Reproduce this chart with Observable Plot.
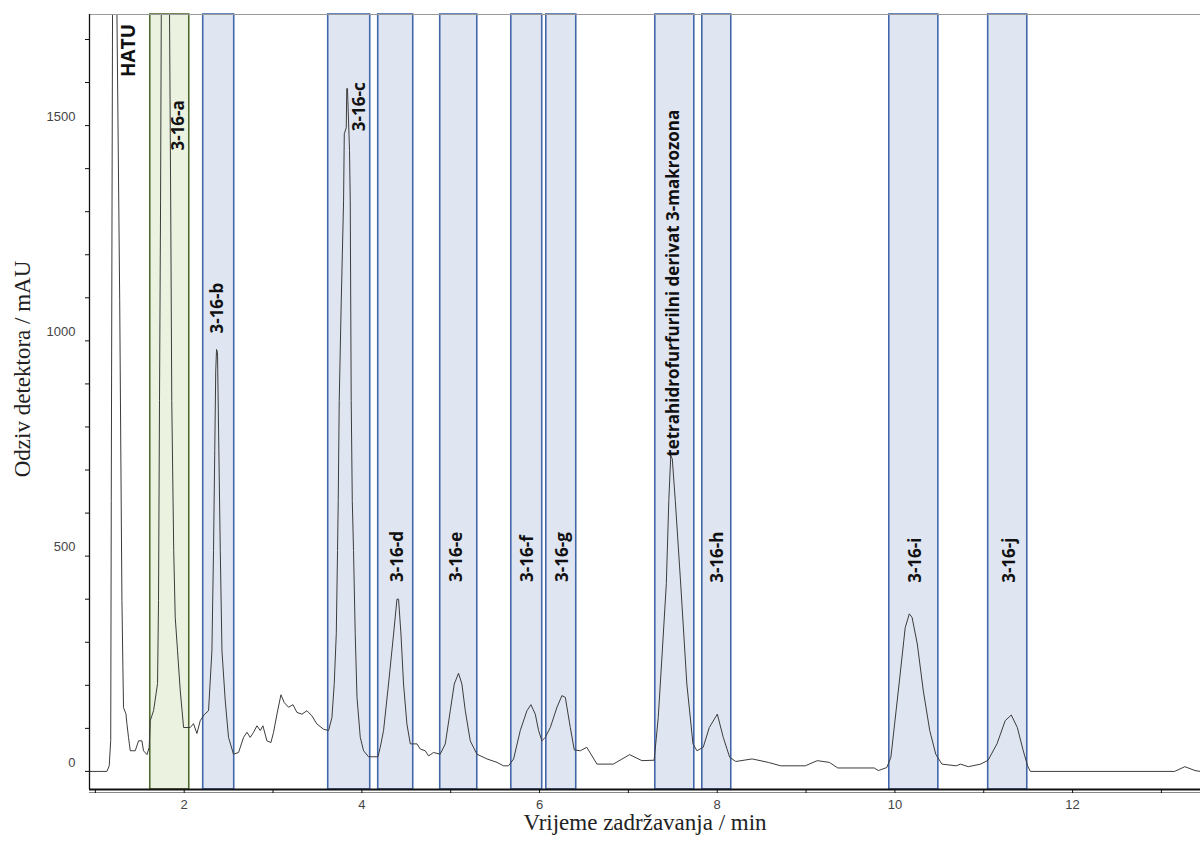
<!DOCTYPE html>
<html>
<head>
<meta charset="utf-8">
<script src="https://cdn.jsdelivr.net/npm/d3@7"></script>
<script src="https://cdn.jsdelivr.net/npm/@observablehq/plot@0.6"></script>
<style>
  html, body { margin: 0; padding: 0; background: #fff; }
  #chart svg { display: block; }
</style>
</head>
<body>
<div id="chart"></div>
<script>
// ---- Data ----
// Retention time (min)
const time = [
  0.934, 1.130, 1.156, 1.173, 1.179, 1.199, 1.216, 1.243, 1.274, 1.299, 1.310, 1.317, 1.344, 1.355, 1.373, 1.393,
  1.449, 1.486, 1.524, 1.542, 1.581, 1.606, 1.618, 1.655, 1.700, 1.711, 1.722, 1.734, 1.742, 1.747, 1.829, 1.835,
  1.848, 1.860, 1.882, 1.899, 1.925, 1.955, 1.993, 2.068, 2.105, 2.143, 2.181, 2.226, 2.274, 2.312, 2.330, 2.344,
  2.355, 2.364, 2.375, 2.387, 2.406, 2.425, 2.462, 2.499, 2.555, 2.612, 2.668, 2.706, 2.743, 2.781, 2.819, 2.856,
  2.886, 2.931, 2.976, 3.006, 3.044, 3.089, 3.126, 3.175, 3.224, 3.269, 3.325, 3.382, 3.438, 3.494, 3.569, 3.625,
  3.663, 3.689, 3.712, 3.726, 3.734, 3.745, 3.768, 3.794, 3.802, 3.824, 3.830, 3.838, 3.861, 3.869, 3.880, 3.892,
  3.906, 3.925, 3.945, 3.982, 4.019, 4.075, 4.181, 4.207, 4.244, 4.300, 4.357, 4.395, 4.413, 4.440, 4.469, 4.507,
  4.545, 4.620, 4.657, 4.713, 4.751, 4.807, 4.882, 4.939, 4.995, 5.040, 5.088, 5.126, 5.164, 5.220, 5.295, 5.408,
  5.521, 5.595, 5.651, 5.708, 5.783, 5.858, 5.903, 5.952, 5.989, 6.027, 6.064, 6.121, 6.196, 6.252, 6.290, 6.346,
  6.391, 6.459, 6.532, 6.646, 6.830, 7.014, 7.152, 7.290, 7.336, 7.382, 7.427, 7.455, 7.477, 7.494, 7.528, 7.589,
  7.658, 7.727, 7.772, 7.842, 7.911, 8.001, 8.068, 8.140, 8.209, 8.393, 8.575, 8.714, 8.991, 9.126, 9.262, 9.358,
  9.768, 9.813, 9.909, 9.955, 10.047, 10.116, 10.162, 10.193, 10.252, 10.320, 10.392, 10.460, 10.529, 10.691, 10.736, 10.827,
  10.966, 11.049, 11.149, 11.242, 11.310, 11.378, 11.445, 11.494, 11.524, 13.149, 13.264, 13.378, 13.438
];
// Detector response (mAU)
const response = [
  0, 0, 13, 72, 629, 2200, 2200, 1758, 1093, 397, 241, 148, 134, 111, 79, 48,
  48, 71, 71, 48, 39, 56, 118, 141, 204, 397, 861, 1325, 1758, 2150, 2150, 1758,
  1325, 861, 513, 358, 280, 189, 102, 102, 111, 88, 118, 132, 141, 280, 513, 745,
  931, 980, 973, 791, 513, 280, 164, 79, 40, 44, 79, 91, 79, 91, 106, 95,
  106, 71, 67, 91, 133, 178, 160, 149, 155, 137, 133, 141, 129, 110, 98, 95,
  125, 204, 320, 513, 629, 861, 1093, 1325, 1481, 1495, 1586, 1586, 1442, 1325, 861, 629,
  513, 320, 172, 79, 48, 34, 34, 56, 95, 203, 319, 400, 400, 319, 203, 110,
  64, 64, 52, 48, 36, 44, 40, 64, 141, 203, 228, 203, 141, 71, 40, 29,
  21, 13, 13, 29, 95, 141, 155, 133, 95, 71, 79, 102, 149, 176, 172, 102,
  50, 48, 56, 17, 17, 39, 25, 26, 125, 280, 436, 629, 733, 726, 629, 435,
  203, 64, 48, 56, 102, 133, 79, 33, 23, 29, 21, 13, 13, 25, 21, 8,
  8, 2, 9, 33, 203, 334, 366, 358, 296, 187, 95, 40, 17, 13, 17, 11,
  17, 26, 64, 118, 131, 102, 48, 13, 0, 0, 11, 2, 0
];

// Collection windows (fractions), min
const bandNames = ["3-16-a", "3-16-b", "3-16-c", "3-16-d", "3-16-e", "3-16-f", "3-16-g", "tetrahidrofurfurilni derivat 3-makrozona", "3-16-h", "3-16-i", "3-16-j"];
const bandStart = [1.618, 2.214, 3.621, 4.184, 4.882, 5.682, 6.076, 7.303, 7.832, 9.937, 11.050];
const bandEnd   = [2.057, 2.563, 4.094, 4.578, 5.299, 6.030, 6.413, 7.742, 8.158, 10.489, 11.490];

// Peak labels: anchor time (min) and level (mAU) where each label starts
const labelNames  = ["HATU", "3-16-a", "3-16-b", "3-16-c", "3-16-d", "3-16-e", "3-16-f", "3-16-g", "tetrahidrofurfurilni derivat 3-makrozona", "3-16-h", "3-16-i", "3-16-j"];
const labelTimes  = [1.376, 1.939, 2.372, 3.970, 4.398, 5.063, 5.870, 6.256, 7.505, 8.006, 10.230, 11.288];
const labelLevels = [1613, 1442, 1017, 1487, 440, 440, 440, 440, 731, 438, 438, 438];

// Axes
const xDomain = [0.934, 13.44];
const yDomain = [-42, 1758];
const xTicks = d3.range(1, 14, 1);
const yTicks = d3.range(0, 1800, 100);
const yLabelTicks = [0, 500, 1000, 1500];
const xTitle = "Vrijeme zadržavanja / min";
const yTitle = "Odziv detektora / mAU";

// ---- Build tables ----
const trace = time.map((t, i) => ({t, v: response[i]}));
const bands = bandNames.map((name, i) => ({name, start: bandStart[i], end: bandEnd[i]}));
const labels = labelNames.map((name, i) => ({name, t: labelTimes[i], v: labelLevels[i]}));

const greenBands = bands.slice(0, 1);
const blueBands = bands.slice(1);
const hatuLabel = labels.slice(0, 1);
const peakLabels = labels.slice(1);

const chart = Plot.plot({
  width: 1200,
  height: 841,
  marginTop: 14,
  marginLeft: 89,
  marginRight: 0,
  marginBottom: 52,
  style: {fontFamily: "'Liberation Sans', Arial, sans-serif", fontSize: "13px", color: "#333", background: "#fff", overflow: "visible"},
  x: {domain: xDomain, label: null},
  y: {domain: yDomain, label: null},
  marks: [
    Plot.rect(greenBands, {x1: "start", x2: "end", fill: "#ebf3e0", stroke: "#50692f", strokeWidth: 1.6}),
    Plot.rect(blueBands, {x1: "start", x2: "end", fill: "#dfe5f1", stroke: "#4367ab", strokeWidth: 1.6}),
    Plot.line(trace, {x: "t", y: "v", stroke: "#3c3c3c", strokeWidth: 1, clip: true}),
    Plot.ruleY([yDomain[1]], {stroke: "#9a9a9a", strokeWidth: 1.2}),
    Plot.ruleX([xDomain[0]], {stroke: "#111", strokeWidth: 1.3}),
    Plot.ruleY([yDomain[0]], {stroke: "#111", strokeWidth: 2.2}),
    Plot.ruleY([yDomain[0]], {stroke: "#888", strokeWidth: 1, dy: 3}),
    Plot.axisY({ticks: yTicks, tickSize: 4, tickFormat: () => "", stroke: "#111"}),
    Plot.axisY({ticks: yLabelTicks, tickSize: 0, tickPadding: 14, dy: -9, tickFormat: d => String(d), fill: "#444", fontSize: 13}),
    Plot.axisX({ticks: xTicks, tickSize: 4, tickPadding: 6, tickFormat: d => (d % 2 === 0 ? String(d) : ""), stroke: "#111", fill: "#444", fontSize: 13}),
    Plot.text(peakLabels, {x: "t", y: "v", text: "name", rotate: -90, textAnchor: "start", fontWeight: "bold", fontSize: 17, fontFamily: "'Open Sans', sans-serif", fill: "#111"}),
    Plot.text(hatuLabel, {x: "t", y: "v", text: "name", rotate: -90, textAnchor: "start", fontWeight: "bold", fontSize: 19, fontFamily: "'Open Sans', sans-serif", fill: "#111"}),
    Plot.text([xTitle], {text: d => d, frameAnchor: "bottom", dy: 40, fontSize: 23, fontFamily: "'Liberation Serif', 'Times New Roman', serif", fill: "#222"}),
    Plot.text([yTitle], {text: d => d, frameAnchor: "left", textAnchor: "middle", dx: -67, dy: -33, rotate: -90, fontSize: 23, fontFamily: "'Liberation Serif', 'Times New Roman', serif", fill: "#222"})
  ]
});
document.getElementById("chart").appendChild(chart);
</script>
</body>
</html>
